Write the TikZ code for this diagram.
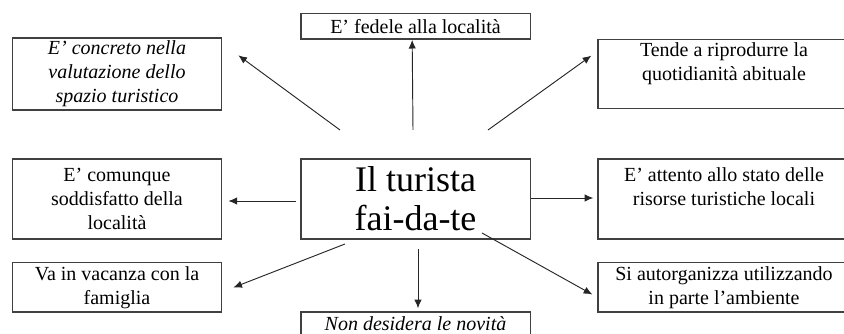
\documentclass[tikz,border=0pt]{standalone}
\usepackage{fontspec}
\setmainfont{Liberation Serif}
\usetikzlibrary{arrows.meta}
\tikzset{%
  box/.style    = {shape=rectangle, draw=black!75, line width=1pt,%
                   align=center, inner sep=2pt,%
                   font=\fontsize{15}{18}\selectfont},%
  itbox/.style  = {box, font=\fontsize{15}{18}\selectfont\itshape},%
  hub/.style    = {box, font=\fontsize{27}{29}\selectfont},%
  arr/.style    = {draw=black!85, line width=0.7pt,%
                   -{Latex[length=6.5pt,width=5.5pt]}}%
}
\begin{document}
\begin{tikzpicture}[x=0.75pt,y=-0.75pt]
	\useasboundingbox (0,0) rectangle (844,334);
	% the boxes
	\node [hub, minimum width=172pt, minimum height=60pt] (turista) at (415.5,199) {Il turista\\fai-da-te};
	\node [box, minimum width=172pt, minimum height=19pt] (fedele) at (415.5,26.5) {E’ fedele alla località};
	\node [itbox, minimum width=157pt, minimum height=54pt] (concreto) at (117,74) {E’ concreto nella\\valutazione dello\\spazio turistico};
	\node [box, minimum width=189pt, minimum height=52pt] (tende) at (724,74) {Tende a riprodurre la\\quotidianità abituale\\ \mbox{}};
	\node [box, minimum width=157pt, minimum height=60pt] (soddisfatto) at (117,199) {E’ comunque\\soddisfatto della\\località};
	\node [box, minimum width=189pt, minimum height=60pt] (attento) at (724,199) {E’ attento allo stato delle\\risorse turistiche locali\\ \mbox{}};
	\node [box, minimum width=157pt, minimum height=37pt] (vacanza) at (117,287.5) {Va in vacanza con la\\famiglia};
	\node [box, minimum width=189pt, minimum height=37pt] (autorg) at (724,287.5) {Si autorganizza utilizzando\\in parte l’ambiente};
	\node [itbox, minimum width=172pt, minimum height=18pt] (novita) at (415.5,324) {Non desidera le novità};
	% start points of the arrows
	\coordinate (su)  at (413,130);
	\coordinate (snw) at (340,130);
	\coordinate (sne) at (488,130);
	\coordinate (sw)  at (296,201);
	\coordinate (se)  at (531,198);
	\coordinate (ssw) at (345,244);
	\coordinate (ss)  at (418,249);
	\coordinate (sse) at (482,233);
	% arrows
	\draw [arr] (su)  -- ([xshift=-2.5]fedele.south);
	\draw [arr] (snw) -- ([shift={(16,18)}]concreto.north east);
	\draw [arr] (sne) -- ([shift={(-6,17)}]tende.north west);
	\draw [arr] (sw)  -- ([shift={(6,2)}]soddisfatto.east);
	\draw [arr] (se)  -- ([shift={(-4,-1)}]attento.west);
	\draw [arr] (ssw) -- ([shift={(11,0)}]vacanza.east);
	\draw [arr] (ss)  -- ([shift={(2.5,-3)}]novita.north);
	\draw [arr] (sse) -- ([shift={(-5,7)}]autorg.west);
\end{tikzpicture}
\end{document}
